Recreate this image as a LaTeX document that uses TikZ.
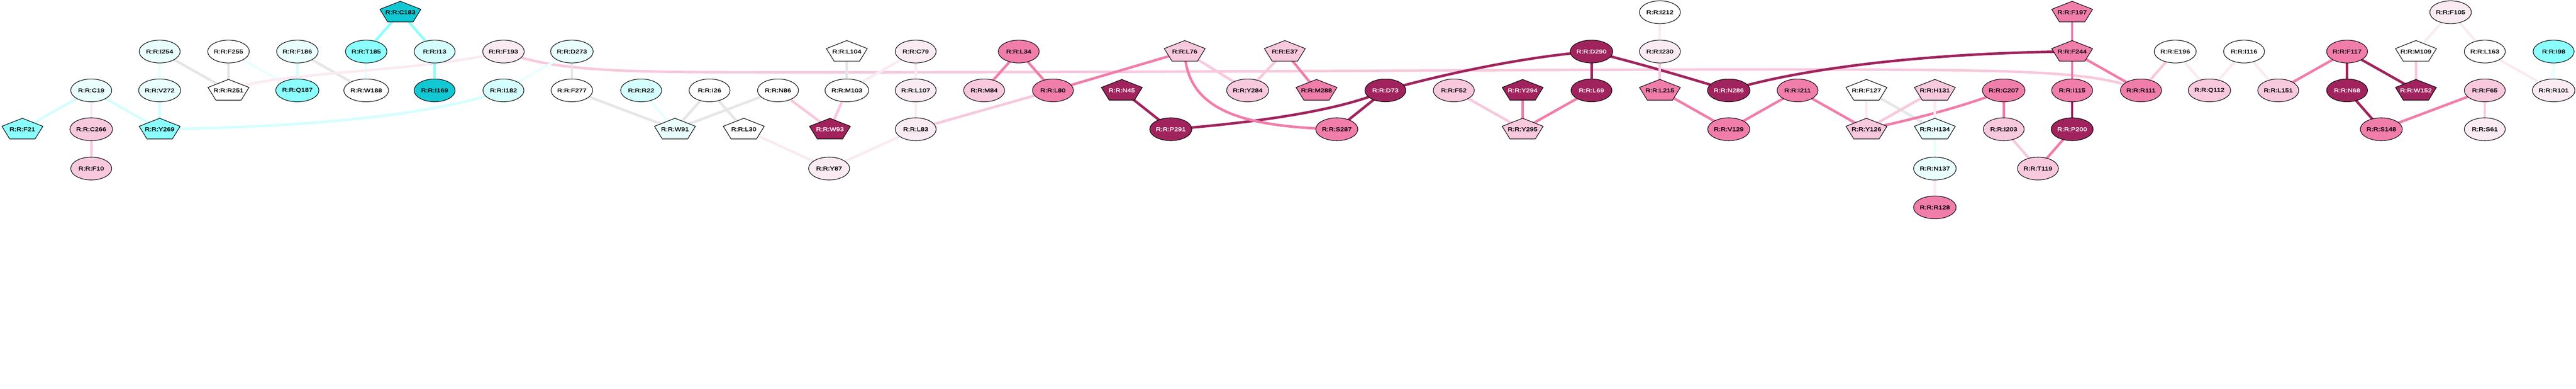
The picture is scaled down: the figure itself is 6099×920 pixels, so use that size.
\documentclass[tikz,border=0pt]{standalone}
\usepackage{fontspec}
\newfontfamily\lblfont{Liberation Sans}[FakeStretch=1.25,FakeBold=1.5]
\usetikzlibrary{shapes.geometric}
\definecolor{cVLC}{HTML}{E8FFFE}
\definecolor{cLC}{HTML}{D4FFFE}
\definecolor{cCY}{HTML}{8BFFFD}
\definecolor{cDC}{HTML}{12C8D2}
\definecolor{cVLP}{HTML}{FAEBF3}
\definecolor{cLP}{HTML}{F8C8DD}
\definecolor{cMP}{HTML}{F07DAA}
\definecolor{cDK}{HTML}{A0235D}
\definecolor{cGR}{HTML}{E6E6E6}
\pgfdeclarelayer{bglayer}
\pgfdeclarelayer{edgelayer}
\pgfsetlayers{bglayer,edgelayer,main}
\tikzset{
  lbl/.style={font=\lblfont\fontsize{13}{13}\selectfont, inner sep=0pt},
  ell/.style={lbl, ellipse, draw=black, line width=1.3pt, minimum width=97pt, minimum height=54pt},
  fW/.style={fill=white},
  fVLC/.style={fill=cVLC},
  fLC/.style={fill=cLC},
  fCY/.style={fill=cCY},
  fDC/.style={fill=cDC},
  fVLP/.style={fill=cVLP},
  fLP/.style={fill=cLP},
  fMP/.style={fill=cMP},
  fDK/.style={fill=cDK, text=white},
  conn/.style={line width=6pt},
  eGR/.style={conn, draw=cGR},
  eVLC/.style={conn, draw=cVLC},
  eLC/.style={conn, draw=cLC},
  eCY/.style={conn, draw=cCY},
  eVLP/.style={conn, draw=cVLP},
  eLP/.style={conn, draw=cLP},
  eMP/.style={conn, draw=cMP},
  eDK/.style={conn, draw=cDK},
}
\newcommand\pentnode[5]{%
  \filldraw[#4, draw=black, line width=1.3pt, line join=miter, shift={(#2,#3)}] (-48.5,-7) -- (0,-26) -- (48.5,-7) -- (30,23) -- (-30,23) -- cycle;
  \node[lbl,#4] (#1) at (#2,#3) {#5};
}
\begin{document}
\begin{tikzpicture}[x=1pt,y=-1pt]
\useasboundingbox (0,0) rectangle (6099,920);
\begin{pgfonlayer}{bglayer}
\fill[white] (0,0) rectangle (6099,920);
\end{pgfonlayer}
% ellipse nodes
\node[ell,fVLC] (C19) at (216,214) {R:R:C19};
\node[ell,fLP] (C266) at (216,306) {R:R:C266};
\node[ell,fLP] (F10) at (216,399) {R:R:F10};
\node[ell,fVLC] (I254) at (378,122) {R:R:I254};
\node[ell,fVLC] (V272) at (378,214) {R:R:V272};
\node[ell,fW] (F255) at (541,122) {R:R:F255};
\node[ell,fVLC] (F186) at (704,122) {R:R:F186};
\node[ell,fCY] (Q187) at (704,214) {R:R:Q187};
\node[ell,fCY] (T185) at (867,122) {R:R:T185};
\node[ell,fW] (W188) at (867,214) {R:R:W188};
\node[ell,fLC] (I13) at (1029,122) {R:R:I13};
\node[ell,fDC] (I169) at (1029,214) {R:R:I169};
\node[ell,fVLP] (F193) at (1192,122) {R:R:F193};
\node[ell,fLC] (I182) at (1192,214) {R:R:I182};
\node[ell,fVLC] (D273) at (1354,122) {R:R:D273};
\node[ell,fW] (F277) at (1354,214) {R:R:F277};
\node[ell,fLC] (R22) at (1518,214) {R:R:R22};
\node[ell,fW] (I26) at (1680,214) {R:R:I26};
\node[ell,fW] (N86) at (1842,214) {R:R:N86};
\node[ell,fVLP] (Y87) at (1963,399) {R:R:Y87};
\node[ell,fW] (M103) at (2005,214) {R:R:M103};
\node[ell,fVLP] (C79) at (2168,122) {R:R:C79};
\node[ell,fVLP] (L107) at (2168,214) {R:R:L107};
\node[ell,fVLP] (L83) at (2168,306) {R:R:L83};
\node[ell,fMP] (L34) at (2412,122) {R:R:L34};
\node[ell,fLP] (M84) at (2330,214) {R:R:M84};
\node[ell,fMP] (L80) at (2493,214) {R:R:L80};
\node[ell,fDK] (P291) at (2772,306) {R:R:P291};
\node[ell,fLP] (Y284) at (2954,214) {R:R:Y284};
\node[ell,fDK] (D73) at (3280,214) {R:R:D73};
\node[ell,fMP] (S287) at (3165,306) {R:R:S287};
\node[ell,fLP] (F52) at (3442,214) {R:R:F52};
\node[ell,fDK] (D290) at (3768,122) {R:R:D290};
\node[ell,fDK] (L69) at (3768,214) {R:R:L69};
\node[ell,fW] (I212) at (3930,29) {R:R:I212};
\node[ell,fVLP] (I230) at (3930,122) {R:R:I230};
\node[ell,fDK] (N286) at (4093,214) {R:R:N286};
\node[ell,fMP] (V129) at (4093,306) {R:R:V129};
\node[ell,fMP] (I211) at (4256,214) {R:R:I211};
\node[ell,fVLC] (N137) at (4581,399) {R:R:N137};
\node[ell,fMP] (R128) at (4581,491) {R:R:R128};
\node[ell,fMP] (C207) at (4744,214) {R:R:C207};
\node[ell,fLP] (I203) at (4744,306) {R:R:I203};
\node[ell,fLP] (T119) at (4825,399) {R:R:T119};
\node[ell,fMP] (I115) at (4906,214) {R:R:I115};
\node[ell,fDK] (P200) at (4906,306) {R:R:P200};
\node[ell,fMP] (R111) at (5069,214) {R:R:R111};
\node[ell,fW] (E196) at (5150,122) {R:R:E196};
\node[ell,fLP] (Q112) at (5231,214) {R:R:Q112};
\node[ell,fW] (I116) at (5313,122) {R:R:I116};
\node[ell,fLP] (L151) at (5394,214) {R:R:L151};
\node[ell,fMP] (F117) at (5557,122) {R:R:F117};
\node[ell,fDK] (N68) at (5557,214) {R:R:N68};
\node[ell,fMP] (S148) at (5638,306) {R:R:S148};
\node[ell,fVLP] (F105) at (5802,29) {R:R:F105};
\node[ell,fW] (L163) at (5883,122) {R:R:L163};
\node[ell,fLP] (F65) at (5883,214) {R:R:F65};
\node[ell,fVLP] (S61) at (5883,306) {R:R:S61};
\node[ell,fCY] (I98) at (6046,122) {R:R:I98};
\node[ell,fVLP] (R101) at (6046,214) {R:R:R101};
% pentagon nodes
\pentnode{F21}{53}{306}{fCY}{R:R:F21}
\pentnode{Y269}{378}{306}{fCY}{R:R:Y269}
\pentnode{R251}{541}{214}{fW}{R:R:R251}
\pentnode{C183}{948}{29}{fDC}{R:R:C183}
\pentnode{W91}{1598}{306}{fVLC}{R:R:W91}
\pentnode{L30}{1761}{306}{fW}{R:R:L30}
\pentnode{W93}{1965}{306}{fDK}{R:R:W93}
\pentnode{L104}{2005}{122}{fW}{R:R:L104}
\pentnode{N45}{2656}{214}{fDK}{R:R:N45}
\pentnode{L76}{2805}{122}{fLP}{R:R:L76}
\pentnode{E37}{3042}{122}{fLP}{R:R:E37}
\pentnode{M288}{3117}{214}{fMP}{R:R:M288}
\pentnode{Y294}{3605}{214}{fDK}{R:R:Y294}
\pentnode{Y295}{3605}{306}{fLP}{R:R:Y295}
\pentnode{L215}{3930}{214}{fMP}{R:R:L215}
\pentnode{F127}{4419}{214}{fW}{R:R:F127}
\pentnode{Y126}{4419}{306}{fLP}{R:R:Y126}
\pentnode{H131}{4581}{214}{fLP}{R:R:H131}
\pentnode{H134}{4581}{306}{fVLC}{R:R:H134}
\pentnode{F197}{4906}{29}{fMP}{R:R:F197}
\pentnode{F244}{4906}{122}{fMP}{R:R:F244}
\pentnode{M109}{5720}{122}{fW}{R:R:M109}
\pentnode{W152}{5720}{214}{fDK}{R:R:W152}
% connectors
\begin{pgfonlayer}{edgelayer}
\draw[eLC] (C19.center) -- (F21.center);
\draw[eVLP] (C19.center) -- (C266.center);
\draw[eLC] (C19.center) -- (Y269.center);
\draw[eLP] (C266.center) -- (F10.center);
\draw[eVLC] (I254.center) -- (V272.center);
\draw[eGR] (I254.center) -- (R251.center);
\draw[eLC] (V272.center) -- (Y269.center);
\draw[eLC] (Y269.center) .. controls (800,300) and (1060,262) .. (I182.center);
\draw[eGR] (F255.center) -- (R251.center);
\draw[eVLC] (F255.center) -- (Q187.center);
\draw[eLC] (F186.center) -- (Q187.center);
\draw[eGR] (F186.center) -- (W188.center);
\draw[eVLC] (T185.center) -- (W188.center);
\draw[eCY] (C183.center) -- (T185.center);
\draw[eCY] (C183.center) -- (I13.center);
\draw[eVLP] (R251.center) .. controls (650,168) and (1000,172) .. (F193.center);
\draw[eCY] (I13.center) -- (I169.center);
\draw[eLP] (F193.center) .. controls (1300,165) and (1450,170) .. (1700,171) .. controls (2900,173) and (4000,160) .. (4600,166) .. controls (4850,169) and (4990,178) .. (R111.center);
\draw[eGR] (D273.center) -- (F277.center);
\draw[eVLC] (D273.center) -- (I182.center);
\draw[eGR] (F277.center) -- (W91.center);
\draw[eVLC] (R22.center) -- (W91.center);
\draw[eGR] (I26.center) -- (W91.center);
\draw[eGR] (I26.center) -- (L30.center);
\draw[eGR] (N86.center) -- (W91.center);
\draw[eLP] (N86.center) -- (W93.center);
\draw[eLP] (M103.center) -- (W93.center);
\draw[eGR] (L104.center) -- (M103.center);
\draw[eVLP] (L30.center) -- (Y87.center);
\draw[eVLP] (Y87.center) -- (L83.center);
\draw[eVLP] (C79.center) -- (M103.center);
\draw[eVLP] (C79.center) -- (L107.center);
\draw[eVLP] (L107.center) -- (L83.center);
\draw[eLP] (L83.center) -- (L80.center);
\draw[eMP] (L34.center) -- (M84.center);
\draw[eMP] (L34.center) -- (L80.center);
\draw[eMP] (L80.center) -- (L76.center);
\draw[eDK] (N45.center) -- (P291.center);
\draw[eDK] (P291.center) .. controls (2980,290) and (3180,260) .. (D73.center);
\draw[eLP] (L76.center) -- (Y284.center);
\draw[eMP] (L76.center) .. controls (2810,270) and (2960,300) .. (S287.center);
\draw[eLP] (Y284.center) -- (E37.center);
\draw[eMP] (E37.center) -- (M288.center);
\draw[eDK] (D73.center) -- (S287.center);
\draw[eDK] (D73.center) .. controls (3400,180) and (3600,135) .. (D290.center);
\draw[eLP] (F52.center) -- (Y295.center);
\draw[eDK] (D290.center) -- (L69.center);
\draw[eDK] (D290.center) .. controls (3880,150) and (4000,185) .. (N286.center);
\draw[eMP] (Y294.center) -- (Y295.center);
\draw[eMP] (L69.center) -- (Y295.center);
\draw[eVLP] (I212.center) -- (I230.center);
\draw[eLP] (I230.center) -- (L215.center);
\draw[eMP] (L215.center) -- (V129.center);
\draw[eDK] (N286.center) .. controls (4250,165) and (4550,125) .. (F244.center);
\draw[eMP] (V129.center) -- (I211.center);
\draw[eMP] (I211.center) -- (Y126.center);
\draw[eVLP] (F127.center) -- (Y126.center);
\draw[eGR] (F127.center) -- (H134.center);
\draw[eLP] (Y126.center) -- (H131.center);
\draw[eMP] (Y126.center) .. controls (4520,285) and (4660,250) .. (C207.center);
\draw[eVLP] (H131.center) -- (H134.center);
\draw[eVLC] (H134.center) -- (N137.center);
\draw[eVLP] (N137.center) -- (R128.center);
\draw[eMP] (C207.center) -- (I203.center);
\draw[eLP] (I203.center) -- (T119.center);
\draw[eMP] (P200.center) -- (T119.center);
\draw[eDK] (I115.center) -- (P200.center);
\draw[eMP] (F244.center) -- (I115.center);
\draw[eMP] (F197.center) -- (F244.center);
\draw[eMP] (F244.center) -- (R111.center);
\draw[eLP] (E196.center) -- (R111.center);
\draw[eVLP] (E196.center) -- (Q112.center);
\draw[eVLP] (I116.center) -- (Q112.center);
\draw[eVLP] (I116.center) -- (L151.center);
\draw[eMP] (L151.center) -- (F117.center);
\draw[eDK] (F117.center) -- (N68.center);
\draw[eDK] (F117.center) -- (W152.center);
\draw[eDK] (N68.center) -- (S148.center);
\draw[eLP] (M109.center) -- (W152.center);
\draw[eVLP] (F105.center) -- (M109.center);
\draw[eVLP] (F105.center) -- (L163.center);
\draw[eVLP] (L163.center) -- (R101.center);
\draw[eVLC] (I98.center) -- (R101.center);
\draw[eMP] (F65.center) -- (S148.center);
\draw[eLP] (F65.center) -- (S61.center);
\end{pgfonlayer}
\end{tikzpicture}
\end{document}
